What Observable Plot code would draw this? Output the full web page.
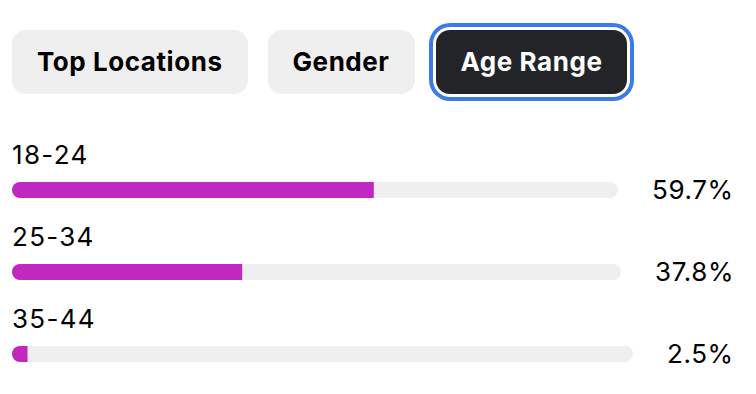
<!DOCTYPE html>
<html>
<head>
<meta charset="utf-8">
<script src="https://cdn.jsdelivr.net/npm/d3@7"></script>
<script src="https://cdn.jsdelivr.net/npm/@observablehq/plot@0.6"></script>
<style>
  html, body { margin: 0; padding: 0; background: #fff; }
  body { width: 756px; height: 394px; overflow: hidden; font-family: Inter, "Noto Sans", sans-serif; color: #000; }
  #tabs { position: absolute; left: 12px; top: 30px; display: flex; gap: 20px; }
  .tab { height: 64px; line-height: 64px; padding: 0 25px; border-radius: 14px; background: #efefef;
         font-size: 26px; font-weight: 700; letter-spacing: 0.55px; color: #000; white-space: nowrap; box-sizing: border-box; }
  .tab.active { background: #232428; color: #fff; margin-left: 1px;
         box-shadow: 0 0 0 3px #fff, 0 0 0 7px #3a7be6; }
  #rows { position: absolute; left: 12px; top: 141.5px; width: 722px; }
  .label { font-size: 26px; line-height: 26px; height: 26px; margin-bottom: 14.5px; letter-spacing: 1.3px; }
  .barrow { display: flex; align-items: center; gap: 34px; height: 16px; margin-bottom: 25.5px; }
  .barrow svg { flex: none; clip-path: inset(0 round 8px); }
  .pct { font-size: 26px; line-height: 16px; white-space: nowrap; flex: none; letter-spacing: 0.6px; }
</style>
</head>
<body>
<div id="tabs"></div>
<div id="rows"></div>
<script>
const tabs = ["Top Locations", "Gender", "Age Range"];
const activeTab = "Age Range";
const ageRanges = ["18-24", "25-34", "35-44"];
const shares = [59.7, 37.8, 2.5];

const tabsEl = document.getElementById("tabs");
tabs.forEach(t => {
  const d = document.createElement("div");
  d.className = "tab" + (t === activeTab ? " active" : "");
  d.textContent = t;
  tabsEl.appendChild(d);
});

const rowsEl = document.getElementById("rows");
const totalWidth = 722;
const gap = 34;
ageRanges.forEach((range, i) => {
  const value = shares[i];
  const label = document.createElement("div");
  label.className = "label";
  label.textContent = range;
  rowsEl.appendChild(label);

  const row = document.createElement("div");
  row.className = "barrow";
  rowsEl.appendChild(row);

  const pct = document.createElement("span");
  pct.className = "pct";
  pct.textContent = value.toFixed(1) + "%";
  row.appendChild(pct);
  const pctWidth = pct.getBoundingClientRect().width;
  const trackWidth = Math.round(totalWidth - gap - pctWidth);

  const chart = Plot.plot({
    width: trackWidth,
    height: 16,
    margin: 0,
    style: { background: "transparent", overflow: "visible" },
    x: { domain: [0, 100], axis: null },
    marks: [
      Plot.barX([100], { x: d => d, fill: "#efefef" }),
      Plot.barX([{ range, value }], { x: "value", fill: "#c028bf" })
    ]
  });
  row.insertBefore(chart, pct);
});
</script>
</body>
</html>
